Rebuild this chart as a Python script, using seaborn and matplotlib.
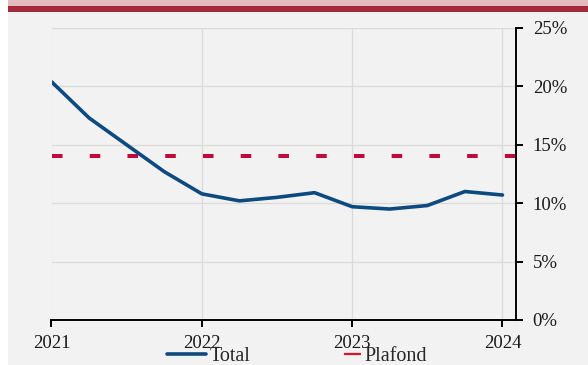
import matplotlib
matplotlib.use("Agg")
import matplotlib.pyplot as plt
from matplotlib.lines import Line2D
from matplotlib.patches import Rectangle
import seaborn as sns
import pandas as pd

# Quarterly observations, 2021 Q1 .. 2024 Q1
quarters = [2021.00, 2021.25, 2021.50, 2021.75,
            2022.00, 2022.25, 2022.50, 2022.75,
            2023.00, 2023.25, 2023.50, 2023.75,
            2024.00]
total = [20.4, 17.3, 15.0, 12.7, 10.8, 10.2, 10.5, 10.9,
         9.7, 9.5, 9.8, 11.0, 10.7]
plafond = 14.0

year_ticks = [2021, 2022, 2023, 2024]
pct_ticks = [0, 5, 10, 15, 20, 25]

NAVY = "#0d4a80"
CRIMSON = "#bf0a3c"
BG = "#f2f2f2"

sns.set_theme(style="white")
plt.rcParams["font.family"] = ["Liberation Serif", "DejaVu Serif"]

df = pd.DataFrame({"quarter": quarters, "total": total})

fig = plt.figure(figsize=(5.88, 3.65), dpi=100, facecolor=BG)
ax = fig.add_axes([51.5 / 588, 45 / 365, 464.5 / 588, 292 / 365])
ax.set_facecolor(BG)

# header band and left margin strip
fig.patches.append(Rectangle((0, 0), 8 / 588, 1, transform=fig.transFigure,
                             facecolor="white", edgecolor="none", zorder=0))
fig.patches.append(Rectangle((8 / 588, 1 - 6.5 / 365), 1, 6.5 / 365,
                             transform=fig.transFigure, facecolor="#e4bcbf",
                             edgecolor="none", zorder=1))
fig.patches.append(Rectangle((8 / 588, 1 - 11.5 / 365), 1, 5 / 365,
                             transform=fig.transFigure, facecolor="#a32a3a",
                             edgecolor="none", zorder=1))

ax.axhline(plafond, color=CRIMSON, lw=2.9, dashes=(2.62, 6.75),
           solid_capstyle="butt", dash_capstyle="butt", zorder=2)
sns.lineplot(data=df, x="quarter", y="total", ax=ax, color=NAVY, lw=2.6,
             zorder=3, legend=False)

ax.set_xlim(2021, 2024.09)
ax.set_ylim(0, 25)
ax.set_xticks(year_ticks)
ax.set_xticklabels([str(y) for y in year_ticks])
ax.set_yticks(pct_ticks)
ax.set_yticklabels([f"{p}%" for p in pct_ticks])
ax.set_xlabel("")
ax.set_ylabel("")

ax.yaxis.tick_right()
ax.grid(True, color="#dadada", lw=0.9)
ax.set_axisbelow(True)
for side in ("left", "top"):
    ax.spines[side].set_visible(False)
for side in ("right", "bottom"):
    ax.spines[side].set_color("black")
    ax.spines[side].set_linewidth(1.4)
ax.tick_params(axis="y", which="both", right=True, left=False, direction="out",
               length=5, width=1.4, color="black", pad=7, labelsize=13.5,
               labelcolor="#1a1a1a")
ax.tick_params(axis="x", which="both", bottom=True, direction="out",
               length=5, width=1.4, color="black", pad=6, labelsize=13.5,
               labelcolor="#1a1a1a")

handles = [
    Line2D([], [], color=NAVY, lw=2.6),
    Line2D([], [], color="#e0102a", lw=1.6, linestyle=(7.7, (7.7, 10.3))),
]
fig.legend(handles, ["Total", "Plafond"], loc="center",
           bbox_to_anchor=(0.505, 0.024), ncol=2, frameon=False,
           fontsize=14.5, handlelength=1.95, handletextpad=0.2,
           columnspacing=3.5, borderaxespad=0)

fig.savefig("out.png", dpi=100, facecolor=BG)
